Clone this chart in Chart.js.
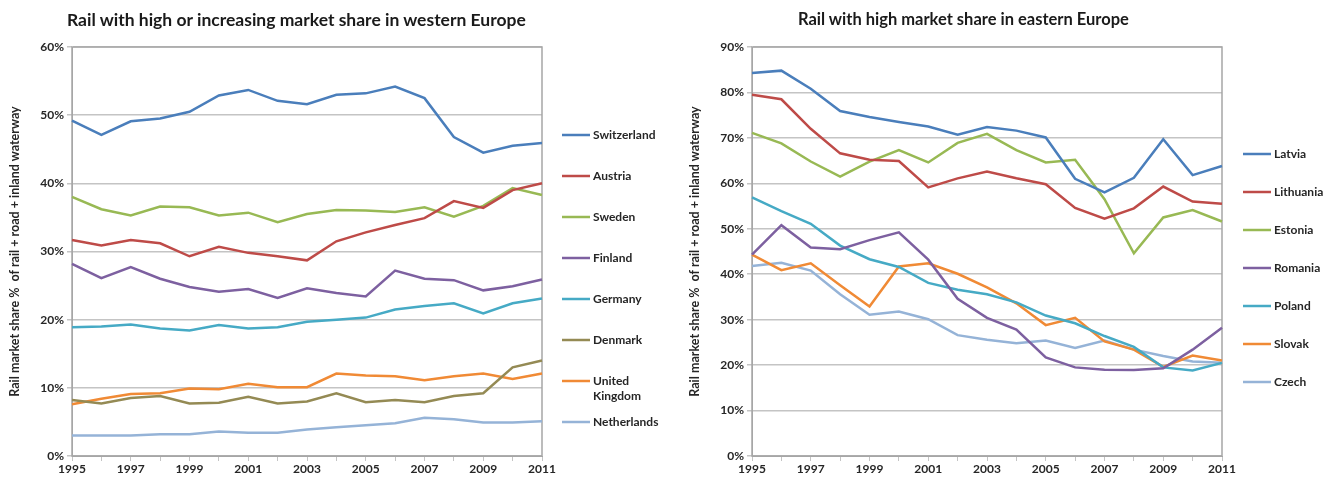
<!DOCTYPE html>
<html>
<head>
<meta charset="utf-8">
<script src="https://cdn.jsdelivr.net/npm/chart.js@4.4.1/dist/chart.umd.min.js"></script>
<style>
  body { margin: 0; background: #fff; width: 1332px; height: 480px; overflow: hidden; position: relative; font-family: Lato, sans-serif; }
  .box { position: absolute; top: 0; width: 666px; height: 480px; }
  .title { position: absolute; top: 9px; font-family: Lato, sans-serif; font-weight: bold; color: #1a1a1a; white-space: nowrap; }
</style>
</head>
<body>
<div class="box" style="left:0"><canvas id="westChart" width="666" height="480"></canvas></div>
<div class="box" style="left:666px"><canvas id="eastChart" width="666" height="480"></canvas></div>
<div class="title" id="westTitle" style="left:67px; font-size:17.5px">Rail with high or increasing market share in western Europe</div>
<div class="title" id="eastTitle" style="left:798px; font-size:16.5px">Rail with high market share in eastern Europe</div>
<script>
// years on the x axis
const years = ["1995","1996","1997","1998","1999","2000","2001","2002","2003","2004","2005","2006","2007","2008","2009","2010","2011"];

// western Europe (% of rail + road + inland waterway)
const switzerland = [49.2, 47.1, 49.1, 49.5, 50.5, 52.9, 53.7, 52.1, 51.6, 53.0, 53.2, 54.2, 52.5, 46.8, 44.5, 45.5, 45.9];
const austria = [31.7, 30.9, 31.7, 31.2, 29.3, 30.7, 29.8, 29.3, 28.7, 31.5, 32.8, 33.9, 34.9, 37.4, 36.4, 39.0, 40.0];
const sweden = [38.0, 36.2, 35.3, 36.6, 36.5, 35.3, 35.7, 34.3, 35.5, 36.1, 36.0, 35.8, 36.5, 35.1, 36.7, 39.3, 38.3];
const finland = [28.2, 26.1, 27.7, 26.0, 24.8, 24.1, 24.5, 23.2, 24.6, 23.9, 23.4, 27.2, 26.0, 25.8, 24.3, 24.9, 25.9];
const germany = [18.9, 19.0, 19.3, 18.7, 18.4, 19.2, 18.7, 18.9, 19.7, 20.0, 20.3, 21.5, 22.0, 22.4, 20.9, 22.4, 23.1];
const denmark = [8.2, 7.7, 8.5, 8.8, 7.7, 7.8, 8.7, 7.7, 8.0, 9.2, 7.9, 8.2, 7.9, 8.8, 9.2, 13.0, 14.0];
const unitedKingdom = [7.6, 8.4, 9.1, 9.2, 9.9, 9.8, 10.6, 10.1, 10.1, 12.1, 11.8, 11.7, 11.1, 11.7, 12.1, 11.3, 12.1];
const netherlands = [3.0, 3.0, 3.0, 3.2, 3.2, 3.6, 3.4, 3.4, 3.9, 4.2, 4.5, 4.8, 5.6, 5.4, 4.9, 4.9, 5.1];

// eastern Europe
const latvia = [84.3, 84.8, 80.8, 75.9, 74.6, 73.5, 72.5, 70.7, 72.4, 71.6, 70.1, 61.0, 58.0, 61.2, 69.7, 61.8, 63.8];
const lithuania = [79.5, 78.5, 72.0, 66.6, 65.2, 64.9, 59.1, 61.1, 62.6, 61.1, 59.8, 54.6, 52.2, 54.5, 59.3, 56.0, 55.5];
const estonia = [71.1, 68.8, 64.8, 61.5, 64.8, 67.3, 64.6, 68.9, 70.9, 67.3, 64.6, 65.2, 56.5, 44.6, 52.5, 54.1, 51.6];
const romania = [44.3, 50.8, 45.9, 45.5, 47.5, 49.2, 43.2, 34.6, 30.4, 27.8, 21.7, 19.5, 19.0, 18.9, 19.3, 23.4, 28.2];
const poland = [56.9, 53.9, 51.1, 46.3, 43.3, 41.6, 38.1, 36.6, 35.6, 33.8, 30.9, 29.2, 26.4, 24.0, 19.5, 18.8, 20.5];
const slovak = [44.3, 40.9, 42.4, 37.6, 32.9, 41.7, 42.4, 40.1, 37.1, 33.6, 28.8, 30.4, 25.2, 23.4, 19.6, 22.1, 21.0];
const czech = [41.8, 42.5, 40.8, 35.6, 31.1, 31.8, 30.1, 26.6, 25.6, 24.8, 25.4, 23.8, 25.4, 23.4, 22.0, 20.8, 20.5];

const westNames = ["Switzerland", "Austria", "Sweden", "Finland", "Germany", "Denmark", ["United", "Kingdom"], "Netherlands"];
const eastNames = ["Latvia", "Lithuania", "Estonia", "Romania", "Poland", "Slovak", "Czech"];

const westColors = ["#4a7ebb", "#be4b48", "#98b954", "#7d60a0", "#46aac5", "#948a54", "#f08a35", "#95b3d7"];
const eastColors = ["#4a7ebb", "#be4b48", "#98b954", "#7d60a0", "#46aac5", "#f08a35", "#95b3d7"];

const FONT = "Lato, sans-serif";
const TEXT = "#262626";
const GRID = "#c4c4c4";

// draws the grey box round the plot and a legend on the right side
const sidePlugin = {
  id: "side",
  beforeDatasetsDraw(chart) {
    const a = chart.chartArea;
    const ctx = chart.ctx;
    ctx.save();
    ctx.strokeStyle = "#a6a6a6";
    ctx.lineWidth = 1.5;
    ctx.strokeRect(a.left, a.top, a.right - a.left, a.bottom - a.top);
    ctx.restore();
  },
  afterDraw(chart, args, opts) {
    const ctx = chart.ctx;
    ctx.save();
    ctx.font = "bold 12px " + FONT;
    ctx.textBaseline = "middle";
    ctx.fillStyle = TEXT;
    chart.data.datasets.forEach((ds, i) => {
      const y = opts.y0 + i * opts.gap;
      ctx.strokeStyle = ds.borderColor;
      ctx.lineWidth = 2.5;
      ctx.beginPath();
      ctx.moveTo(opts.x, y);
      ctx.lineTo(opts.x + 28, y);
      ctx.stroke();
      const lines = Array.isArray(ds.label) ? ds.label : [ds.label];
      lines.forEach((t, k) => ctx.fillText(t, opts.x + 31, y + k * 15));
    });
    ctx.restore();
  }
};

function makeChart(id, names, colors, series, yMax, leftPad, rightPad, legend) {
  return new Chart(document.getElementById(id), {
    type: "line",
    data: {
      labels: years,
      datasets: series.map((d, i) => ({
        label: names[i],
        data: d,
        borderColor: colors[i],
        backgroundColor: colors[i],
        borderWidth: 2.5,
        pointRadius: 0,
        tension: 0,
        fill: false,
      })),
    },
    options: {
      responsive: false,
      devicePixelRatio: 1,
      animation: false,
      layout: { padding: { top: 47, right: rightPad, left: leftPad, bottom: 0 } },
      plugins: {
        legend: { display: false },
        tooltip: { enabled: false },
        side: legend,
      },
      scales: {
        x: {
          offset: false,
          grid: { drawOnChartArea: false, color: GRID, tickLength: 5 },
          border: { color: "#a6a6a6" },
          ticks: {
            autoSkip: false,
            maxRotation: 0,
            color: TEXT,
            font: { family: FONT, size: 12, weight: "bold" },
            padding: 1,
            callback: (v, i) => (i % 2 === 0 ? years[i] : ""),
          },
          afterFit: (s) => { s.height = 24; },
        },
        y: {
          min: 0,
          max: yMax,
          grid: { color: GRID, lineWidth: 1.5, tickLength: 5 },
          border: { color: "#a6a6a6" },
          ticks: {
            stepSize: 10,
            color: TEXT,
            font: { family: FONT, size: 12, weight: "bold" },
            padding: 3,
            callback: (v) => v + "%",
          },
          title: {
            display: true,
            text: "Rail market share %  of rail + road + inland waterway",
            color: TEXT,
            font: { family: FONT, size: 12.5, weight: "bold" },
            padding: { top: 7, bottom: 0 },
          },
          afterFit: (s) => { s.width = 72; },
        },
      },
    },
    plugins: [sidePlugin],
  });
}

makeChart("westChart", westNames, westColors,
  [switzerland, austria, sweden, finland, germany, denmark, unitedKingdom, netherlands],
  60, 0, 124, { x: 562, y0: 135, gap: 41 });

makeChart("eastChart", eastNames, eastColors,
  [latvia, lithuania, estonia, romania, poland, slovak, czech],
  90, 14, 110, { x: 577, y0: 154, gap: 38 });
</script>
</body>
</html>
